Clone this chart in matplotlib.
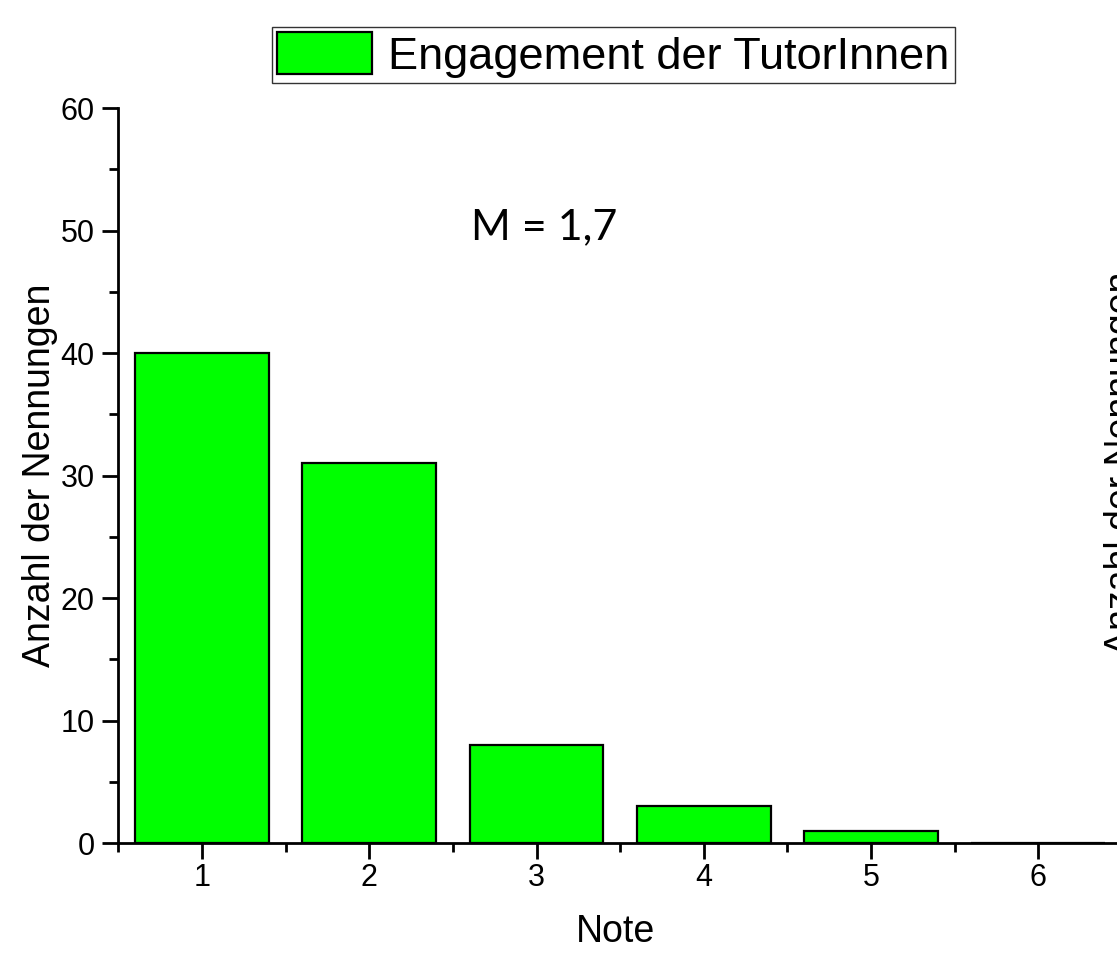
import numpy as np
import matplotlib
matplotlib.use("Agg")
import matplotlib.pyplot as plt
from matplotlib.patches import Patch
from matplotlib.ticker import MultipleLocator

# Daten
noten = [1, 2, 3, 4, 5, 6]
anzahl = [40, 31, 8, 3, 1, 0]
serie = 'Engagement der TutorInnen'
mittelwert = 'M = 1,7'
ylabel = 'Anzahl der Nennungen'
xlabel = 'Note'

gruen = '#00ff00'
plt.rcParams['font.family'] = ['Liberation Sans', 'DejaVu Sans']

W, H = 1117, 955
fig = plt.figure(figsize=(W / 100, H / 100), dpi=100)
# Achse ragt rechts etwas aus dem Bild heraus (wie im Original)
ax = fig.add_axes([118.3 / W, (H - 843) / H, (1122 - 118.3) / W, (843 - 108) / H])

ax.bar(noten, anzahl, width=0.8, color=gruen, edgecolor='black', linewidth=1.6, zorder=2)

ax.set_xlim(0.5, 6.5)
ax.set_ylim(0, 60)
ax.xaxis.set_major_locator(MultipleLocator(1))
ax.xaxis.set_minor_locator(MultipleLocator(1, offset=0.5))
ax.yaxis.set_major_locator(MultipleLocator(10))
ax.yaxis.set_minor_locator(MultipleLocator(5))

for s in ['top', 'right']:
    ax.spines[s].set_visible(False)
for s in ['left', 'bottom']:
    ax.spines[s].set_linewidth(2)

ax.tick_params(which='major', direction='out', length=11.5, width=2, labelsize=22)
ax.tick_params(which='minor', direction='out', length=6.5, width=2)
ax.tick_params(axis='x', which='major', pad=3)
ax.tick_params(axis='y', which='major', pad=5.5)

ax.set_ylabel(ylabel, fontsize=27)
ax.yaxis.set_label_coords(-0.06, 0.5)
ax.set_xlabel(xlabel, fontsize=27)
ax.xaxis.set_label_coords(0.495, -0.097)

ax.text(2.61, 49.3, mittelwert, fontsize=31, family=['Lato', 'DejaVu Sans'],
        ha='left', va='baseline')

# rechte Achsenbeschriftung, am Bildrand abgeschnitten wie im Original
fig.text(1104 / W, 1 - 463 / H, ylabel, rotation=90, fontsize=27, ha='left', va='center')

leg = fig.legend(handles=[Patch(facecolor=gruen, edgecolor='black', linewidth=1.6, label=serie)],
                 loc='upper left', bbox_to_anchor=(272 / W, 1 - 27 / H), borderaxespad=0,
                 fontsize=32.5, handlelength=2.1, handleheight=1.05, handletextpad=0.35,
                 borderpad=0.12, fancybox=False, framealpha=1)
leg.get_frame().set_edgecolor('#333333')
leg.get_frame().set_linewidth(1)

fig.savefig('out.png', dpi=100)
